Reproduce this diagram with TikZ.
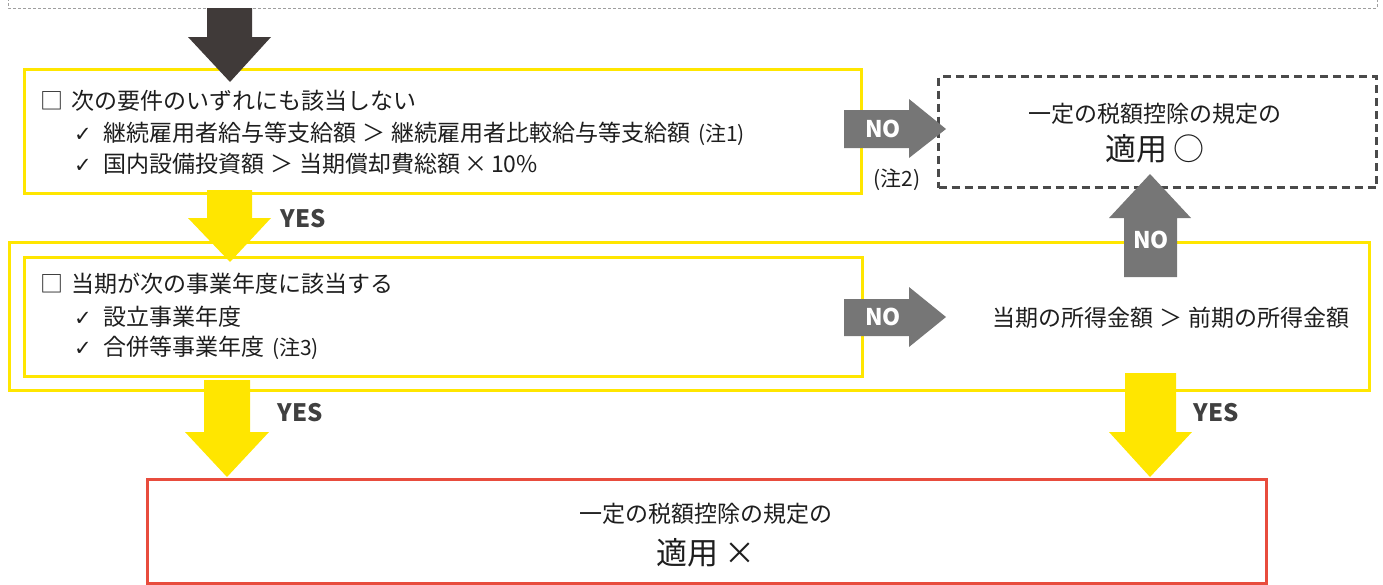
\documentclass[tikz,border=0pt]{standalone}
\usepackage{fontspec}
\setmainfont{Noto Sans CJK JP}
\newfontfamily\symf{DejaVu Sans}
\definecolor{yel}{HTML}{FFE600}
\definecolor{darkarr}{HTML}{403A39}
\definecolor{grayarr}{HTML}{767676}
\definecolor{labtxt}{HTML}{404040}
\definecolor{redbox}{HTML}{E84C3D}
\definecolor{dashbox}{HTML}{4A4A4A}
\definecolor{txtc}{HTML}{1E1E1E}
\newcommand{\chk}{\makebox[29pt][l]{\symf\fontsize{21}{24}\selectfont ✓}}
\newcommand{\notetxt}[1]{{\fontsize{21}{24}\selectfont (注#1)}}
\tikzset{
  ybox/.style={draw=yel, line width=3pt, rectangle, inner sep=0pt, anchor=north west},
  line/.style={anchor=base west, inner sep=0pt, text=txtc, font=\fontsize{23}{28}\selectfont},
  ctr/.style={anchor=base, inner sep=0pt, text=txtc, font=\fontsize{23}{28}\selectfont},
  big/.style={anchor=base, inner sep=0pt, text=txtc, font=\fontsize{31}{36}\selectfont},
  yeslab/.style={inner sep=0pt, text=labtxt, font=\bfseries\fontsize{24}{28}\selectfont},
  nolab/.style={inner sep=0pt, text=white, font=\bfseries\fontsize{23}{28}\selectfont},
  note/.style={inner sep=0pt, text=txtc, font=\fontsize{21}{24}\selectfont},
}
\begin{document}
\begin{tikzpicture}[x=1pt,y=-1pt]
\useasboundingbox (0,0) rectangle (1383,584);
% top dashed frame edge
\draw[gray!75, line width=1pt, dash pattern=on 3pt off 2pt] (8,-2) -- (8,8) -- (1377,8) -- (1377,-2);
% boxes
\node[ybox, minimum width=1360, minimum height=148] (outer) at (8,241) {};
\node[ybox, minimum width=837, minimum height=124] (b1) at (23,68) {};
\node[ybox, minimum width=838, minimum height=119] (b2) at (23,256) {};
\node[draw=dashbox, line width=3pt, dash pattern=on 8pt off 5pt, rectangle, inner sep=0pt, anchor=north west,
      minimum width=438, minimum height=111] (ok) at (937,75) {};
\node[draw=redbox, line width=3pt, rectangle, inner sep=0pt, anchor=north west,
      minimum width=1119, minimum height=104] (ng) at (146,478) {};
% arrows
\fill[darkarr] (207,8) -- (252,8) -- (252,37) -- (271,37) -- (230,82) -- (188,37) -- (207,37) -- cycle;
\fill[yel] (207,190) -- (252,190) -- (252,218) -- (271,218) -- (230,262) -- (188,218) -- (207,218) -- cycle;
\fill[yel] (204,380) -- (250,380) -- (250,432) -- (269,432) -- (227,477) -- (185,432) -- (204,432) -- cycle;
\fill[yel] (1125,373) -- (1176,373) -- (1176,432) -- (1192,432) -- (1150,477) -- (1109,432) -- (1125,432) -- cycle;
\fill[grayarr] (844,110) -- (909,110) -- (909,99) -- (946,129) -- (909,158) -- (909,148) -- (844,148) -- cycle;
\fill[grayarr] (844,299) -- (909,299) -- (909,287) -- (946,317) -- (909,347) -- (909,336) -- (844,336) -- cycle;
\fill[grayarr] (1124,277) -- (1124,218) -- (1109,218) -- (1150,174) -- (1191,218) -- (1177,218) -- (1177,277) -- cycle;
% texts box 1
\node[line] (t1a) at (40,109) {□\hspace{8pt}次の要件のいずれにも該当しない};
\node[line] (t1b) at (74,141) {\chk 継続雇用者給与等支給額\hspace{6pt}＞\hspace{6pt}継続雇用者比較給与等支給額\hspace{8pt}\notetxt{1}};
\node[line] (t1c) at (74,172) {\chk 国内設備投資額\hspace{6pt}＞\hspace{6pt}当期償却費総額\hspace{4pt}×\hspace{4pt}10\%};
% texts box 2
\node[line] (t2a) at (40,292) {□\hspace{8pt}当期が次の事業年度に該当する};
\node[line] (t2b) at (74,325) {\chk 設立事業年度};
\node[line] (t2c) at (74,355) {\chk 合併等事業年度\hspace{8pt}\notetxt{3}};
\node[ctr] (t3) at (1171,326) {当期の所得金額\hspace{6pt}＞\hspace{6pt}前期の所得金額};
% result texts
\node[ctr] (oka) at (1155,122) {一定の税額控除の規定の};
\node[big] (okb) at (1155,160) {適用\hspace{6pt}○};
\node[ctr] (nga) at (706,522) {一定の税額控除の規定の};
\node[big] (ngb) at (706,564) {適用\hspace{6pt}×};
% labels
\node[nolab] (no1) at (883,129) {NO};
\node[nolab] (no2) at (883,317) {NO};
\node[nolab] (no3) at (1151,240) {NO};
\node[yeslab] (yes1) at (303,219) {YES};
\node[yeslab] (yes2) at (300,413) {YES};
\node[yeslab] (yes3) at (1216,413) {YES};
\node[note] (n2) at (897,180) {(注2)};
\end{tikzpicture}
\end{document}
